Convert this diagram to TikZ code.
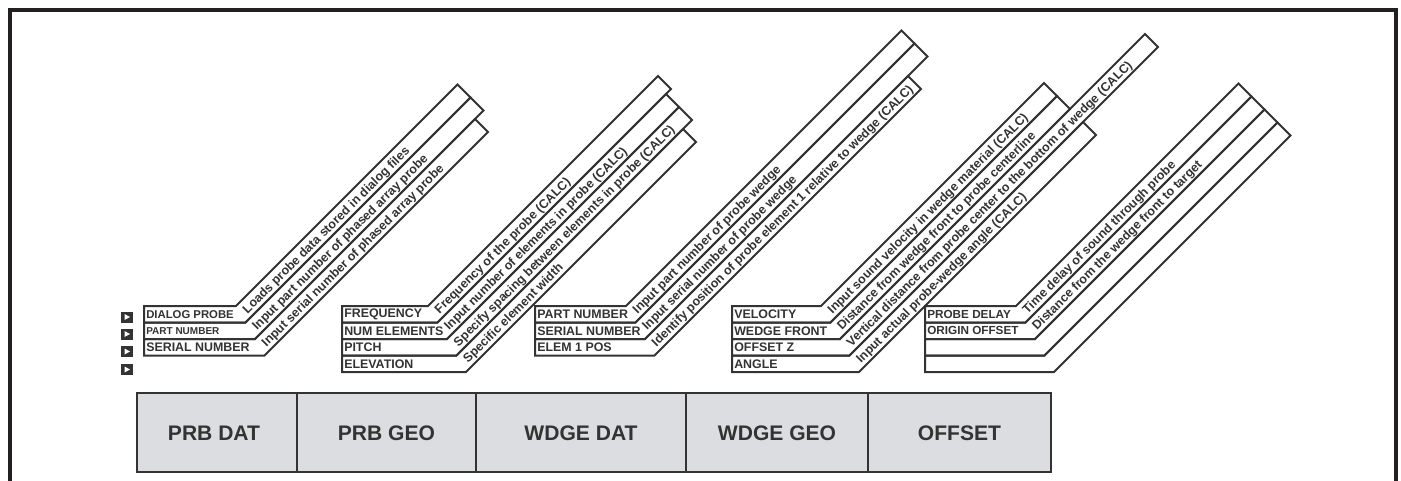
\documentclass[tikz,border=0pt]{standalone}
\usepackage{fontspec}
\setmainfont{Liberation Sans}
\definecolor{ink}{HTML}{333333}
\definecolor{tabgray}{HTML}{DCDDE0}
\definecolor{framecol}{HTML}{231F20}

\begin{document}
\begin{tikzpicture}[x=0.75pt,y=-0.75pt,
  band/.style={draw=ink,line width=1.5pt},
  lbl/.style={anchor=west,inner sep=0pt,text=ink,font=\fontsize{9.3}{10}\selectfont\bfseries},
  note/.style={anchor=base west,inner sep=0pt,rotate=45,text=ink,font=\fontsize{9.4}{10}\selectfont\bfseries},
  tab/.style={draw=ink,line width=1.4pt,fill=tabgray},
  tabtext/.style={text=ink,font=\fontsize{15.8}{18}\selectfont\bfseries}]
  \useasboundingbox (0,0) rectangle (1401,481);
  \draw[framecol,line width=3pt] (10,481) -- (10,10) -- (1396,10) -- (1396,481);

  \fill[ink] (121,311.5) rectangle (132.5,322.5);
  \fill[white] (124.5,314) -- (130,317) -- (124.5,320) -- cycle;
  \fill[ink] (121,328.5) rectangle (132.5,339.5);
  \fill[white] (124.5,331) -- (130,334) -- (124.5,337) -- cycle;
  \fill[ink] (121,346) rectangle (132.5,357);
  \fill[white] (124.5,348.5) -- (130,351.5) -- (124.5,354.5) -- cycle;
  \fill[ink] (121,364) rectangle (132.5,375);
  \fill[white] (124.5,366.5) -- (130,369.5) -- (124.5,372.5) -- cycle;

  \draw[band] (144,306) -- (236,306) -- (457.5,84.5) -- (470.5,97.5) -- (245.5,322.5) -- (144,322.5) -- cycle;
  \draw[band] (144,322.5) -- (245.5,322.5) -- (470.5,97.5) -- (483.5,110.5) -- (255,339) -- (144,339) -- cycle;
  \draw[band] (144,339) -- (255,339) -- (475,119) -- (488,132) -- (264.5,355.5) -- (144,355.5) -- cycle;
  \node[lbl,font=\fontsize{8.5}{10}\selectfont\bfseries] (dialog) at (146,314.25) {DIALOG PROBE};
  \node[lbl,font=\fontsize{7.5}{9}\selectfont\bfseries] (prbpart) at (146,330.75) {PART NUMBER};
  \node[lbl] (prbserial) at (146,347.25) {SERIAL NUMBER};
  \node[note] (nload) at (247.5,314.5) {Loads probe data stored in dialog files};
  \node[note] (nprbpart) at (257,331) {Input part number of phased array probe};
  \node[note] (nprbserial) at (266.5,347.5) {Input serial number of phased array probe};

  \draw[band] (342,306) -- (428,306) -- (658,76) -- (671,89) -- (437.5,322.5) -- (342,322.5) -- cycle;
  \draw[band] (342,322.5) -- (437.5,322.5) -- (666,94) -- (679,107) -- (447,339) -- (342,339) -- cycle;
  \draw[band] (342,339) -- (447,339) -- (679,107) -- (692,120) -- (456.5,355.5) -- (342,355.5) -- cycle;
  \draw[band] (342,355.5) -- (456.5,355.5) -- (683,129) -- (696,142) -- (466,372) -- (342,372) -- cycle;
  \node[lbl] (freq) at (344,314.25) {FREQUENCY};
  \node[lbl] (numel) at (344,330.75) {NUM ELEMENTS};
  \node[lbl] (pitch) at (344,347.25) {PITCH};
  \node[lbl] (elev) at (344,363.75) {ELEVATION};
  \node[note] (nfreq) at (439.5,314.5) {Frequency of the probe (CALC)};
  \node[note] (nnumel) at (449,331) {Input number of elements in probe (CALC)};
  \node[note] (npitch) at (458.5,347.5) {Specify spacing between elements in probe (CALC)};
  \node[note] (nelev) at (468,364) {Specific element width};

  \draw[band] (535,306) -- (626,306) -- (901.5,30.5) -- (914.5,43.5) -- (635.5,322.5) -- (535,322.5) -- cycle;
  \draw[band] (535,322.5) -- (635.5,322.5) -- (914.5,43.5) -- (927.5,56.5) -- (645,339) -- (535,339) -- cycle;
  \draw[band] (535,339) -- (645,339) -- (908,76) -- (921,89) -- (654.5,355.5) -- (535,355.5) -- cycle;
  \node[lbl] (wdgpart) at (537,314.25) {PART NUMBER};
  \node[lbl] (wdgserial) at (537,330.75) {SERIAL NUMBER};
  \node[lbl] (elempos) at (537,347.25) {ELEM 1 POS};
  \node[note] (nwdgpart) at (637.5,314.5) {Input part number of probe wedge};
  \node[note] (nwdgserial) at (647,331) {Input serial number of probe wedge};
  \node[note] (nelempos) at (656.5,347.5) {Identify position of probe element 1 relative to wedge (CALC)};

  \draw[band] (732,306) -- (821,306) -- (1044,83) -- (1057,96) -- (830.5,322.5) -- (732,322.5) -- cycle;
  \draw[band] (732,322.5) -- (830.5,322.5) -- (1057,96) -- (1070,109) -- (840,339) -- (732,339) -- cycle;
  \draw[band] (732,339) -- (840,339) -- (1145,34) -- (1158,47) -- (849.5,355.5) -- (732,355.5) -- cycle;
  \draw[band] (732,355.5) -- (849.5,355.5) -- (1083,122) -- (1096,135) -- (859,372) -- (732,372) -- cycle;
  \node[lbl] (velo) at (734,314.25) {VELOCITY};
  \node[lbl] (front) at (734,330.75) {WEDGE FRONT};
  \node[lbl] (offz) at (734,347.25) {OFFSET Z};
  \node[lbl] (angle) at (734,363.75) {ANGLE};
  \node[note] (nvelo) at (832.5,314.5) {Input sound velocity in wedge material (CALC)};
  \node[note] (nfront) at (842,331) {Distance from wedge front to probe centerline};
  \node[note] (noffz) at (851.5,347.5) {Vertical distance from probe center to the bottom of wedge (CALC)};
  \node[note] (nangle) at (861,364) {Input actual probe-wedge angle (CALC)};

  \draw[band] (925,306) -- (1016,306) -- (1238.5,83.5) -- (1251.5,96.5) -- (1025.5,322.5) -- (925,322.5) -- cycle;
  \draw[band] (925,322.5) -- (1025.5,322.5) -- (1251.5,96.5) -- (1264.5,109.5) -- (1035,339) -- (925,339) -- cycle;
  \draw[band] (925,339) -- (1035,339) -- (1264.5,109.5) -- (1277.5,122.5) -- (1044.5,355.5) -- (925,355.5) -- cycle;
  \draw[band] (925,355.5) -- (1044.5,355.5) -- (1277.5,122.5) -- (1290.5,135.5) -- (1054,372) -- (925,372) -- cycle;
  \node[lbl,font=\fontsize{8.8}{10}\selectfont\bfseries] (delay) at (927,314.25) {PROBE DELAY};
  \node[lbl,font=\fontsize{8.8}{10}\selectfont\bfseries] (origin) at (927,330.75) {ORIGIN OFFSET};
  \node[note] (ndelay) at (1027.5,314.5) {Time delay of sound through probe};
  \node[note] (norigin) at (1037,331) {Distance from the wedge front to target};

  \draw[tab] (137,393) rectangle (297,472);
  \node[tabtext] (prbdat) at (214,433) {PRB DAT};
  \draw[tab] (297,393) rectangle (476,472);
  \node[tabtext] (prbgeo) at (386.5,433) {PRB GEO};
  \draw[tab] (476,393) rectangle (686,472);
  \node[tabtext] (wdgedat) at (581,433) {WDGE DAT};
  \draw[tab] (686,393) rectangle (868,472);
  \node[tabtext] (wdgegeo) at (777,433) {WDGE GEO};
  \draw[tab] (868,393) rectangle (1051,472);
  \node[tabtext] (offset) at (959.5,433) {OFFSET};
\end{tikzpicture}
\end{document}
